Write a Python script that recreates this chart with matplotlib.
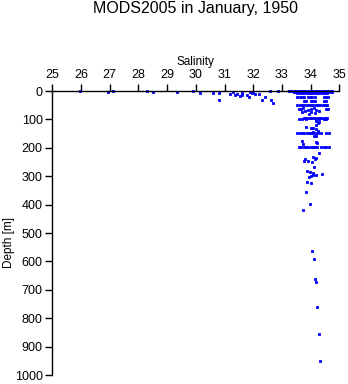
import matplotlib
matplotlib.use("Agg")
import matplotlib.pyplot as plt

plt.rcParams['font.family'] = ['Liberation Sans', 'DejaVu Sans']

title = "MODS2005 in January, 1950"
xlabel = "Salinity"
ylabel = "Depth [m]"
xticks = [25, 26, 27, 28, 29, 30, 31, 32, 33, 34, 35]
yticks = [0, 100, 200, 300, 400, 500, 600, 700, 800, 900, 1000]

# scattered shallow points outside the main cluster
sal_shallow = [25.95, 26.95, 27.1, 28.3, 28.5, 29.35, 29.9, 30.15, 30.6, 30.8, 30.8,
               31.2, 31.3, 31.35, 31.45, 31.55, 31.6, 31.6, 31.8, 31.85, 31.9, 31.95,
               32.0, 32.05, 32.2, 32.3, 32.4, 32.6, 32.62, 32.68, 32.85, 33.25, 33.32]
dep_shallow = [0, 2, 0, 0, 3, 3, 0, 7, 7, 6, 32,
               12, 5, 14, 10, 17, 8, 14, 15, 22, 3, 8,
               2, 10, 12, 33, 21, 0, 33, 41, 0, 0, 0]

# main cluster, standard-depth rows
sal_d0 = [33.42, 33.5, 33.58, 33.66, 33.74, 33.82, 33.9, 33.98, 34.06, 34.14,
          34.22, 34.3, 34.38, 34.46, 34.54, 34.62, 34.7, 34.75]
sal_d8 = [33.54, 33.62, 33.7, 33.78, 33.86, 33.94, 34.02, 34.1, 34.18, 34.26,
          34.34, 34.42, 34.5, 34.57]
sal_d21 = [33.54, 33.62, 33.7, 33.77, 33.9, 33.98, 34.06, 34.14, 34.47, 34.55, 34.62]
sal_d35 = [33.77, 33.85, 34.0, 34.08, 34.15, 34.47, 34.53]
sal_d49 = [33.54, 33.62, 33.7, 33.78, 33.86, 33.94, 34.02, 34.1, 34.18, 34.26,
           34.34, 34.42, 34.5, 34.58]
sal_d96 = [33.77, 33.85, 33.93, 34.01, 34.09, 34.17, 34.25, 34.33, 34.41, 34.49, 34.58]
sal_d148 = [33.54, 33.62, 33.7, 33.78, 33.86, 33.94, 34.02, 34.1, 34.18, 34.26,
            34.35, 34.53, 34.64]
sal_d198 = [33.6, 33.68, 33.76, 33.84, 33.92, 34.0, 34.08, 34.16, 34.24, 34.35,
            34.47, 34.55, 34.64]

# remaining individual points in the cluster and deep water
sal_other = [33.6, 33.68, 33.75, 33.82, 33.9, 34.0, 34.12, 34.2, 34.28, 34.53, 34.62,
             34.0, 33.7, 34.15, 33.95,
             33.6, 33.7, 33.85, 34.18, 34.3, 34.45, 34.55,
             34.18, 34.25, 34.2, 34.3,
             33.85, 34.0, 34.1, 34.2, 34.25, 34.1,
             34.12, 34.2, 33.71, 34.18, 34.23, 33.75,
             34.29, 34.1, 34.2, 34.15, 33.8, 33.77, 33.9, 34.05,
             34.12, 33.89, 33.98, 34.1, 34.41, 34.2, 34.0, 33.95, 34.1,
             33.89, 34.0, 33.85, 33.98, 33.75,
             34.04, 34.13, 34.15, 34.2, 34.22, 34.29, 34.32]
dep_other = [62, 65, 60, 70, 68, 64, 60, 66, 72, 62, 65,
             75, 74, 76, 80,
             100, 100, 100, 100, 100, 100, 100,
             106, 112, 118, 110,
             128, 130, 132, 135, 140, 145,
             160, 158, 176, 180, 183, 186,
             219, 233, 236, 240, 240, 246, 248, 249,
             266, 280, 284, 287, 292, 295, 298, 302, 297,
             320, 323, 357, 398, 420,
             564, 592, 661, 672, 759, 855, 952]

rows = [(sal_d0, 0), (sal_d0, 3), (sal_d8, 8), (sal_d21, 21), (sal_d35, 35),
        (sal_d49, 49), (sal_d96, 96), (sal_d148, 148), (sal_d198, 198)]

salinity = list(sal_shallow) + list(sal_other)
depth = list(dep_shallow) + list(dep_other)
for s_list, d in rows:
    salinity += s_list
    depth += [d] * len(s_list)

fig = plt.figure(figsize=(3.48, 3.84), dpi=100)
ax = fig.add_axes([52.3 / 348, 1 - 375 / 384, (339.3 - 52.3) / 348, (375 - 91) / 384])

ax.plot(salinity, depth, linestyle='none', marker='s', markersize=2.0,
        markerfacecolor='#0000ff', markeredgecolor='#0000ff', markeredgewidth=0.6,
        clip_on=False)

ax.set_xlim(25, 35)
ax.set_ylim(1000, 0)
ax.set_xticks(xticks)
ax.set_yticks(yticks)
ax.xaxis.set_ticks_position('top')
ax.xaxis.set_label_position('top')
ax.spines['bottom'].set_visible(False)
ax.spines['right'].set_visible(False)
for sp in ('top', 'left'):
    ax.spines[sp].set_linewidth(1.0)
ax.tick_params(axis='both', direction='out', length=5, width=1.0, labelsize=9, pad=2)
ax.set_xlabel(xlabel, fontsize=8.5, labelpad=3)

fig.text(9 / 348, 1 - 243 / 384, ylabel, rotation=90, ha='center', va='center', fontsize=8.5)
fig.text((52.3 + 339.3) / 2 / 348, 1 - 9 / 384, title, ha='center', va='center', fontsize=11.5)

fig.savefig("out.png", dpi=100)
